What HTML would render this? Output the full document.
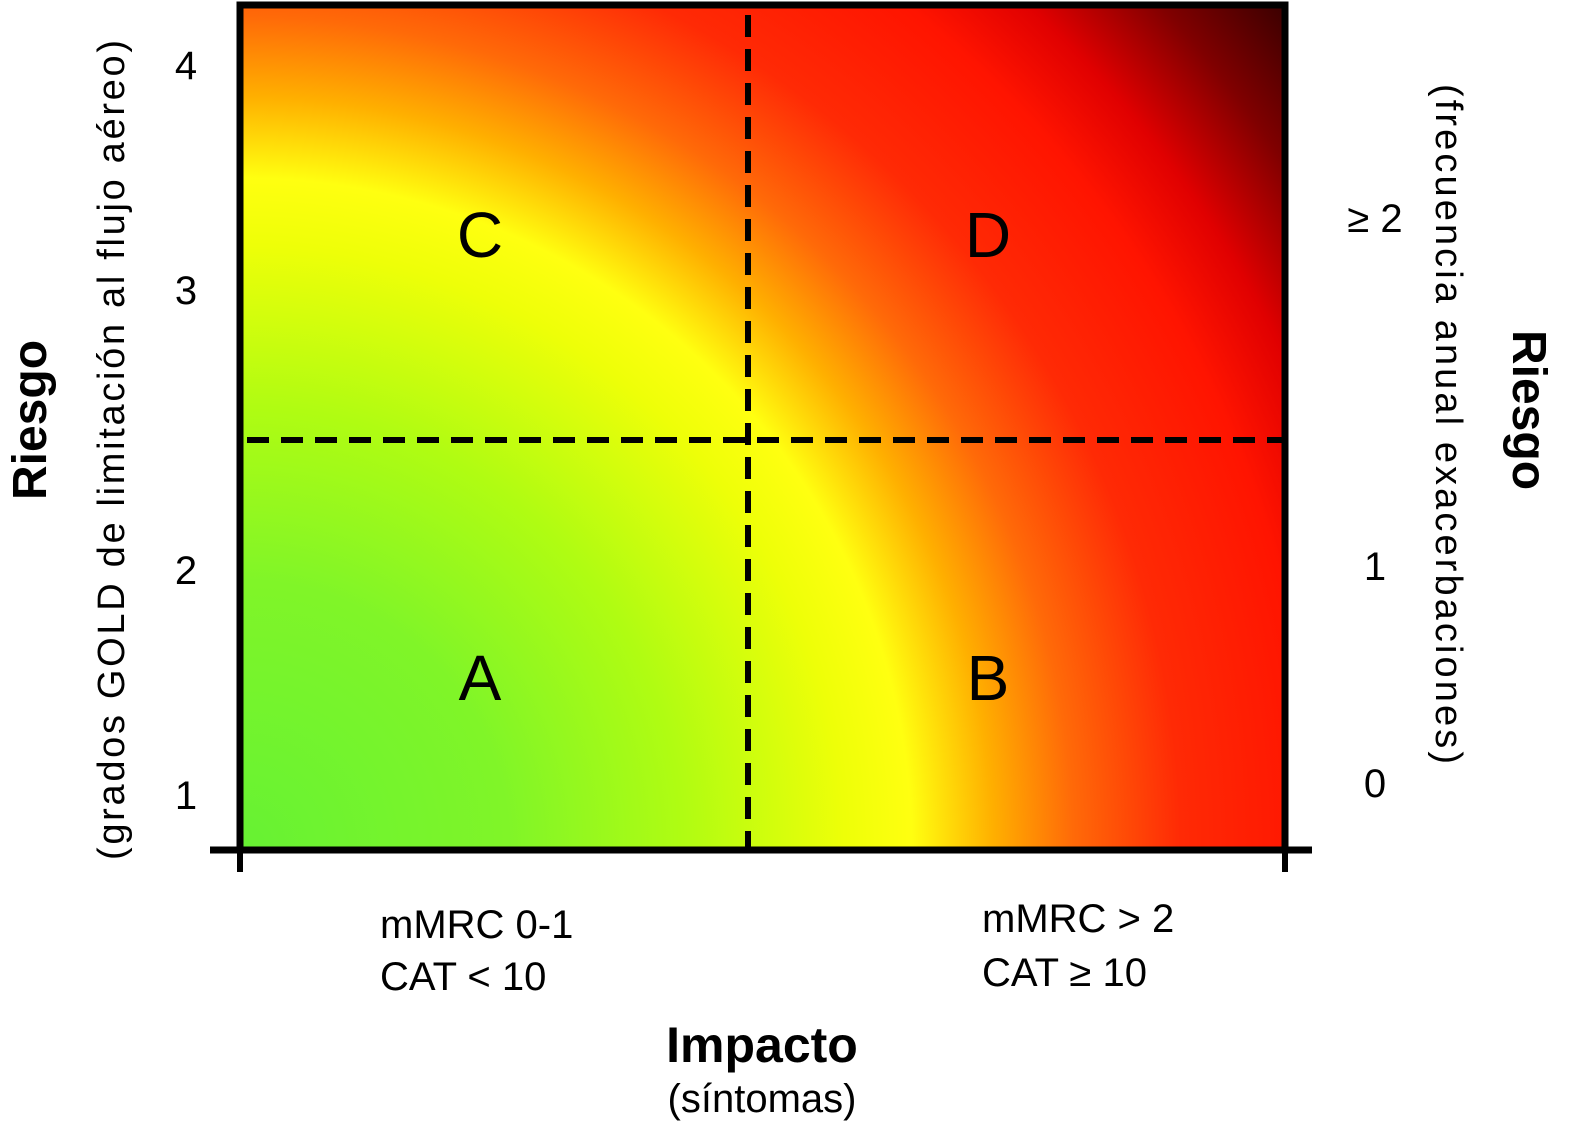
<!DOCTYPE html>
<html><head><meta charset="utf-8"><style>
html,body{margin:0;padding:0;background:#fff}
svg{display:block;font-family:"Liberation Sans",Arial,sans-serif}
</style></head><body>
<svg id="chart" width="1576" height="1132" viewBox="0 0 1576 1132">
<defs>
<radialGradient id="heat" gradientUnits="userSpaceOnUse" cx="240" cy="850" r="1344" fx="240" fy="850">
<stop offset="0" stop-color="#66f233"/>
<stop offset="0.2" stop-color="#80f528"/>
<stop offset="0.33" stop-color="#b0fc12"/>
<stop offset="0.45" stop-color="#eeff08"/>
<stop offset="0.5" stop-color="#ffff10"/>
<stop offset="0.56" stop-color="#ffb000"/>
<stop offset="0.62" stop-color="#ff6a08"/>
<stop offset="0.7" stop-color="#ff2a05"/>
<stop offset="0.8" stop-color="#ff1400"/>
<stop offset="0.86" stop-color="#e00000"/>
<stop offset="0.93" stop-color="#800000"/>
<stop offset="1" stop-color="#3a0000"/>
</radialGradient>
</defs>
<rect x="240" y="5" width="1045" height="845" fill="url(#heat)"/>
<line x1="748" y1="15" x2="748" y2="850" stroke="#000" stroke-width="6" stroke-dasharray="22,12"/>
<line x1="247" y1="440" x2="1282" y2="440" stroke="#000" stroke-width="6" stroke-dasharray="22,12"/>
<path d="M240 850 V5 H1285 V850" fill="none" stroke="#000" stroke-width="7"/>
<line x1="210" y1="850" x2="1312" y2="850" stroke="#000" stroke-width="7"/>
<line x1="240" y1="850" x2="240" y2="872" stroke="#000" stroke-width="6"/>
<line x1="1285" y1="850" x2="1285" y2="872" stroke="#000" stroke-width="6"/>
<g id="quads" font-size="64" text-anchor="middle"></g>
<g id="lticks" font-size="40" text-anchor="middle"></g>
<g id="rticks" font-size="40" text-anchor="middle"></g>
<text x="0" y="0" transform="translate(46,420) rotate(-90)" font-size="48" font-weight="bold" text-anchor="middle">Riesgo</text>
<text x="0" y="0" transform="translate(124,450) rotate(-90)" font-size="38" text-anchor="middle" textLength="820">(grados GOLD de limitación al flujo aéreo)</text>
<text x="0" y="0" transform="translate(1513,410) rotate(90)" font-size="48" font-weight="bold" text-anchor="middle">Riesgo</text>
<text x="0" y="0" transform="translate(1436,424) rotate(90)" font-size="38" text-anchor="middle" textLength="680">(frecuencia anual exacerbaciones)</text>
<text x="380" y="938" font-size="40">mMRC 0-1</text>
<text x="380" y="990" font-size="40">CAT &lt; 10</text>
<text x="982" y="932" font-size="40">mMRC &gt; 2</text>
<text x="982" y="986" font-size="40">CAT ≥ 10</text>
<text x="762" y="1062" font-size="50" font-weight="bold" text-anchor="middle">Impacto</text>
<text x="762" y="1112" font-size="40" text-anchor="middle">(síntomas)</text>
</svg>
<script>
const quadLabels = ["C","D","A","B"];
const quadX = [0,1,0,1];
const quadY = [1,1,0,0];
const leftTicks = ["1","2","3","4"];
const leftTickVals = [1,2,3,4];
const rightTicks = ["0","1","≥ 2"];
const rightTickVals = [0,1,2];
const NS="http://www.w3.org/2000/svg";
function leftY(v){const pos={1:795,2:570,3:290,4:65};return pos[v]!==undefined?pos[v]:795-(v-1)*243;}
function rightY(v){return v===0?795:(v===1?578:230);}
function quadCX(i){return 480+i*508;}
function quadCY(j){return 700-j*443;}
const qg=document.getElementById('quads');
quadLabels.forEach((l,i)=>{const t=document.createElementNS(NS,'text');
t.setAttribute('x',quadCX(quadX[i]));t.setAttribute('y',quadCY(quadY[i]));t.textContent=l;


qg.appendChild(t);});
const lg=document.getElementById('lticks');
leftTicks.forEach((l,i)=>{const t=document.createElementNS(NS,'text');
t.setAttribute('x',186);t.setAttribute('y',leftY(leftTickVals[i])+14);t.textContent=l;


lg.appendChild(t);});
const rg=document.getElementById('rticks');
rightTicks.forEach((l,i)=>{const t=document.createElementNS(NS,'text');
t.setAttribute('x',1375);t.setAttribute('y',rightY(rightTickVals[i])+2);t.textContent=l;


rg.appendChild(t);});
</script>
</body></html>
